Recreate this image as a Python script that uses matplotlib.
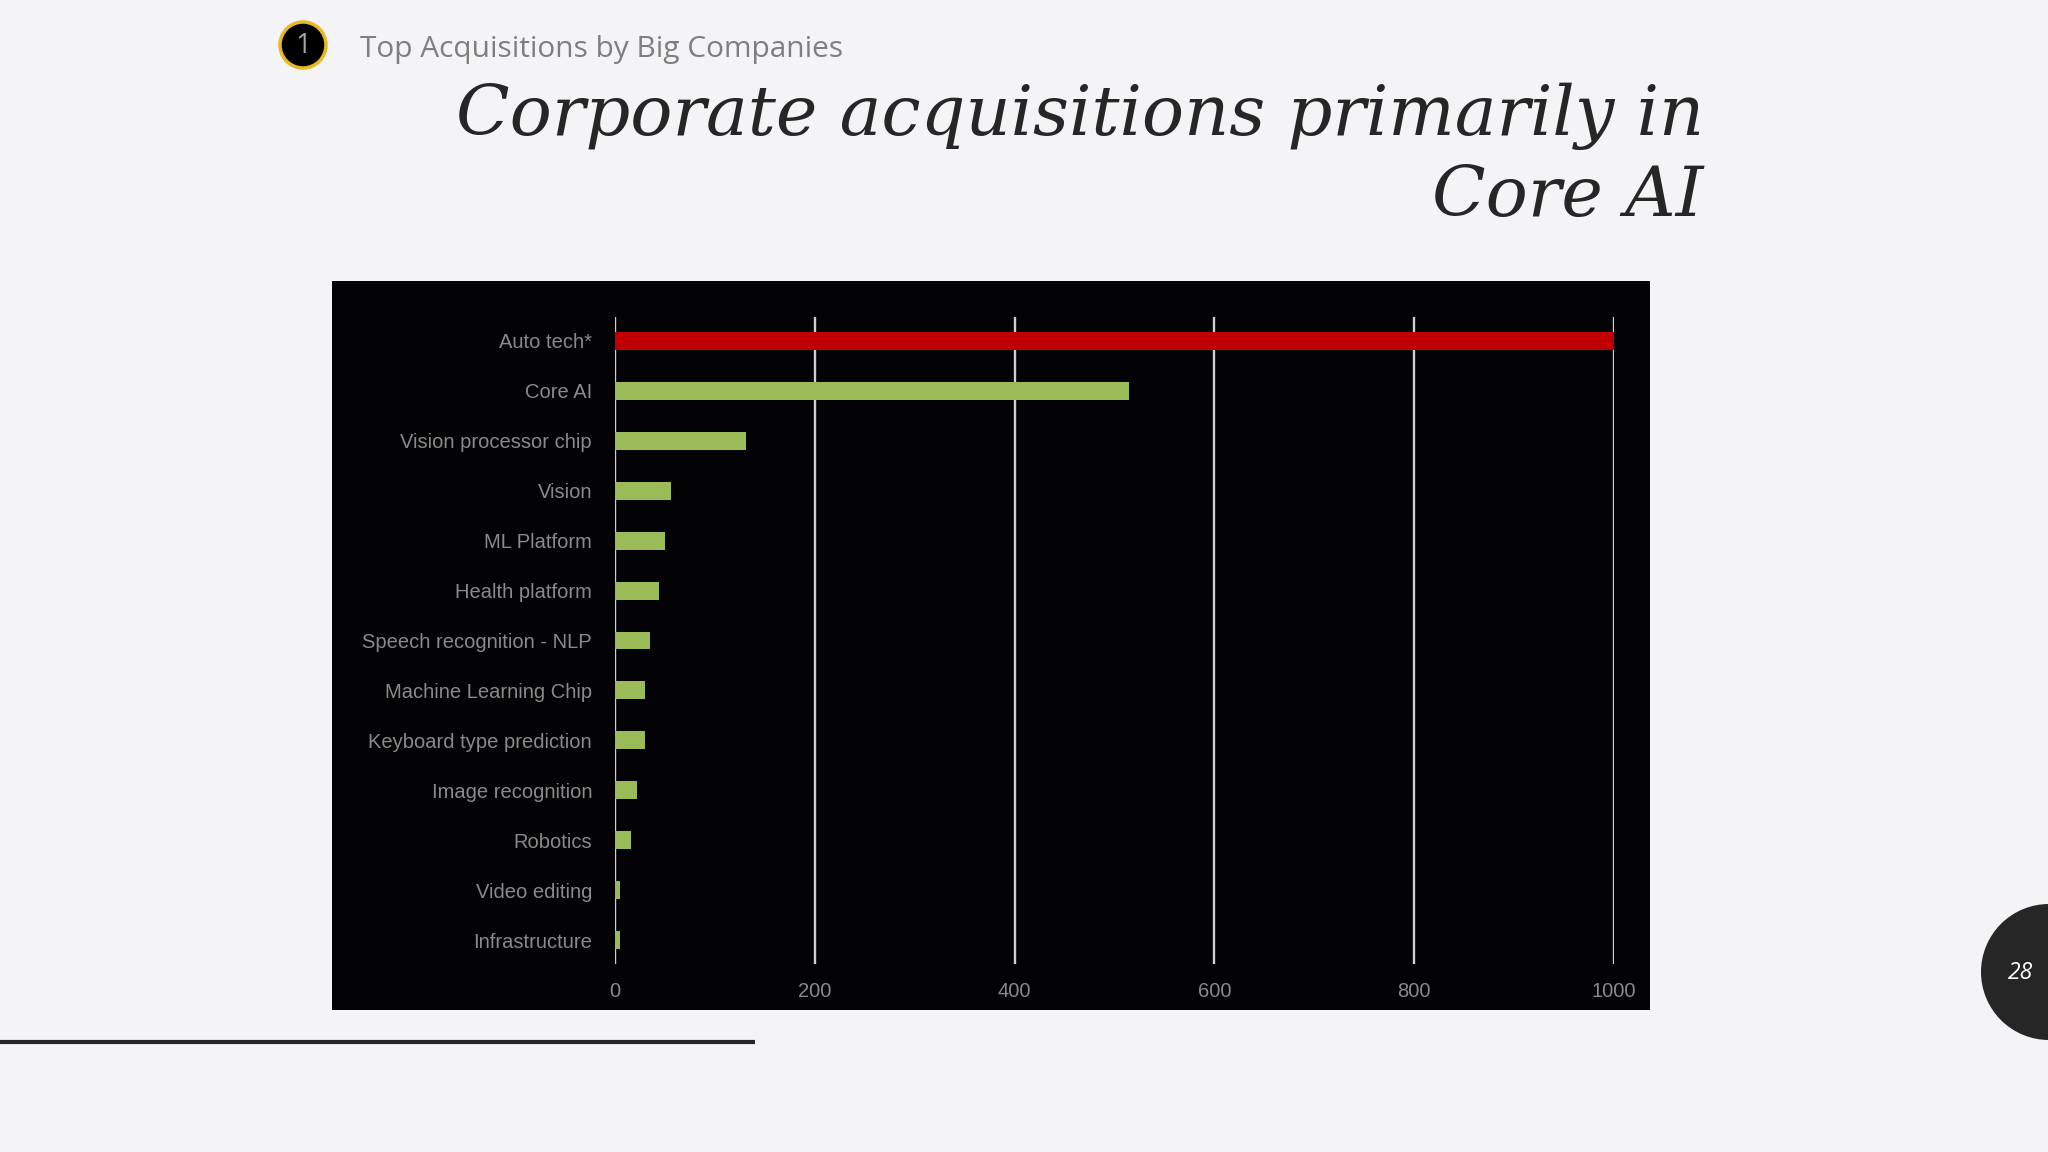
import matplotlib
matplotlib.use("Agg")
import matplotlib.pyplot as plt
from matplotlib.patches import Rectangle, Circle

# data
categories = ['Auto tech*', 'Core AI', 'Vision processor chip', 'Vision', 'ML Platform',
              'Health platform', 'Speech recognition - NLP', 'Machine Learning Chip',
              'Keyboard type prediction', 'Image recognition', 'Robotics',
              'Video editing', 'Infrastructure']
values = [1000, 515, 131, 56, 50, 44, 35, 30, 30, 22, 16, 5, 5]
bar_colors = ['#c00000'] + ['#9bbb59'] * 12
x_ticks = [0, 200, 400, 600, 800, 1000]

bg = '#f4f3f5'
fig = plt.figure(figsize=(20.48, 11.52), dpi=100, facecolor=bg)

# slide layer in pixel coords (drawn under the chart)
slide = fig.add_axes([0, 0, 1, 1], facecolor='none', zorder=-1)
slide.set_xlim(0, 2048)
slide.set_ylim(1152, 0)
slide.axis('off')
slide.add_patch(Rectangle((332, 281), 1318, 729, facecolor='#030204', edgecolor='none'))

ax = fig.add_axes([615 / 2048, 1 - 964 / 1152, 999 / 2048, 647 / 1152], zorder=1)
ax.set_facecolor('none')
ypos = list(range(len(categories)))
ax.barh(ypos, values, height=0.36, color=bar_colors, zorder=3)
ax.set_xlim(0, 1000)
ax.set_ylim(12.48, -0.48)
ax.set_yticks(ypos)
ax.set_yticklabels(categories)
ax.set_xticks(x_ticks)
ax.set_xticklabels([str(t) for t in x_ticks])
for t in x_ticks:
    ax.axvline(t, color='#cfcfcf', lw=1.7, zorder=2)
for s in ax.spines.values():
    s.set_visible(False)
ax.tick_params(length=0, colors='#8a8a8a', labelsize=14.5)
ax.tick_params(axis='y', pad=16.5)
ax.tick_params(axis='x', pad=13)
for lbl in ax.get_xticklabels() + ax.get_yticklabels():
    lbl.set_family('Liberation Sans')

# header
slide.add_patch(Circle((303, 45), 23, facecolor='#000000', edgecolor='#e8b923', lw=2.5))
slide.text(303, 46, '1', ha='center', va='center', color='#a6a6a6', fontsize=20,
           family='Open Sans')
slide.text(360, 50, 'Top Acquisitions by Big Companies', ha='left', va='center',
           color='#7f7f7f', fontsize=21.5, family='Open Sans')
slide.text(1704, 135, 'Corporate acquisitions primarily in', ha='right',
           va='baseline', color='#262626', fontsize=50.5, style='italic',
           family='DejaVu Serif')
slide.text(1704, 216, 'Core AI', ha='right', va='baseline', color='#262626',
           fontsize=50.5, style='italic', family='DejaVu Serif')

# bottom rule and page number
slide.plot([0, 755], [1042, 1042], color='#262626', lw=3, solid_capstyle='butt')
slide.add_patch(Circle((2049, 972), 68, facecolor='#262626', edgecolor='none',
                       clip_on=False))
slide.text(2021, 973, '28', ha='center', va='center', color='white', fontsize=16.5,
           style='italic', family='Open Sans')

fig.savefig('out.png', dpi=100, facecolor=bg)
